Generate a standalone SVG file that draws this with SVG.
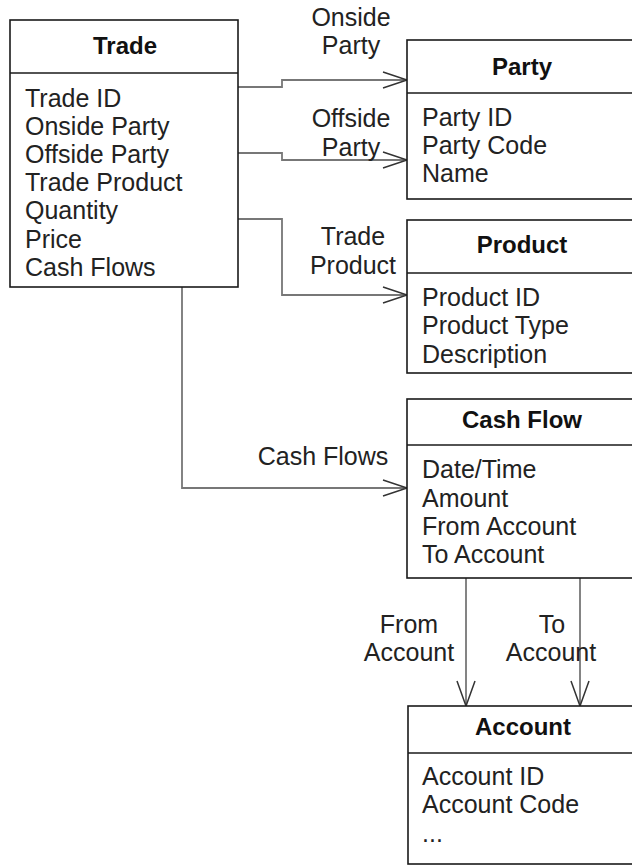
<svg xmlns="http://www.w3.org/2000/svg" width="632" height="866" viewBox="0 0 632 866">
  <style>
    .box { fill: #ffffff; stroke: #1a1a1a; stroke-width: 1.6; }
    .div { stroke: #1a1a1a; stroke-width: 1.6; }
    .title { font-family: "Liberation Sans", Arial, sans-serif; font-size: 24px; font-weight: bold; fill: #111; text-anchor: middle; }
    .attr { font-family: "Liberation Sans", Arial, sans-serif; font-size: 25px; fill: #222; }
    .lbl { font-family: "Liberation Sans", Arial, sans-serif; font-size: 25px; fill: #222; text-anchor: middle; }
    .conn { fill: none; stroke: #777; stroke-width: 1.8; }
    .head { fill: none; stroke: #333; stroke-width: 1.5; }
  </style>
  <rect width="632" height="866" fill="#ffffff"/>

  <!-- relationships -->
  <g id="connectors">
    <!-- Trade -> Party (onside) -->
    <path class="conn" d="M238 87 H282 V80 H407"/>
    <path class="head" d="M383 72 L407 80 L383 88"/>
    <text class="lbl" x="351" y="26">Onside</text>
    <text class="lbl" x="351" y="54">Party</text>

    <!-- Trade -> Party (offside) -->
    <path class="conn" d="M238 153 H282 V160 H407"/>
    <path class="head" d="M383 152 L407 160 L383 168"/>
    <text class="lbl" x="351" y="127">Offside</text>
    <text class="lbl" x="351" y="156">Party</text>

    <!-- Trade -> Product -->
    <path class="conn" d="M238 219 H282 V295 H407"/>
    <path class="head" d="M383 287 L407 295 L383 303"/>
    <text class="lbl" x="353" y="245">Trade</text>
    <text class="lbl" x="353" y="274">Product</text>

    <!-- Trade -> Cash Flow -->
    <path class="conn" d="M182 287 V488 H407"/>
    <path class="head" d="M383 480 L407 488 L383 496"/>
    <text class="lbl" x="323" y="465">Cash Flows</text>

    <!-- Cash Flow -> Account (from) -->
    <path class="conn" d="M466 578 V706"/>
    <path class="head" d="M457 681 L466 706 L475 681"/>
    <text class="lbl" x="409" y="633">From</text>
    <text class="lbl" x="409" y="661">Account</text>

    <!-- Cash Flow -> Account (to) -->
    <path class="conn" d="M580 578 V706"/>
    <path class="head" d="M571 681 L580 706 L589 681"/>
    <text class="lbl" x="552" y="633">To</text>
    <text class="lbl" x="551" y="661">Account</text>
  </g>

  <g id="trade">
    <rect class="box" x="10" y="20" width="228" height="267"/>
    <line class="div" x1="10" y1="73" x2="238" y2="73"/>
    <text class="title" x="125" y="54">Trade</text>
    <text class="attr" x="25" y="107">Trade ID</text>
    <text class="attr" x="25" y="135">Onside Party</text>
    <text class="attr" x="25" y="163">Offside Party</text>
    <text class="attr" x="25" y="191">Trade Product</text>
    <text class="attr" x="25" y="219">Quantity</text>
    <text class="attr" x="25" y="248">Price</text>
    <text class="attr" x="25" y="276">Cash Flows</text>
  </g>

  <g id="party">
    <rect class="box" x="407" y="40" width="230" height="159"/>
    <line class="div" x1="407" y1="93" x2="640" y2="93"/>
    <text class="title" x="522" y="75">Party</text>
    <text class="attr" x="422" y="126">Party ID</text>
    <text class="attr" x="422" y="154">Party Code</text>
    <text class="attr" x="422" y="182">Name</text>
  </g>

  <g id="product">
    <rect class="box" x="407" y="220" width="230" height="153"/>
    <line class="div" x1="407" y1="273" x2="640" y2="273"/>
    <text class="title" x="522" y="253">Product</text>
    <text class="attr" x="422" y="306">Product ID</text>
    <text class="attr" x="422" y="334">Product Type</text>
    <text class="attr" x="422" y="363">Description</text>
  </g>

  <g id="cash-flow">
    <rect class="box" x="407" y="399" width="230" height="179"/>
    <line class="div" x1="407" y1="445" x2="640" y2="445"/>
    <text class="title" x="522" y="428">Cash Flow</text>
    <text class="attr" x="422" y="478">Date/Time</text>
    <text class="attr" x="422" y="507">Amount</text>
    <text class="attr" x="422" y="535">From Account</text>
    <text class="attr" x="422" y="563">To Account</text>
  </g>

  <g id="account">
    <rect class="box" x="408" y="706" width="230" height="158"/>
    <line class="div" x1="408" y1="753" x2="640" y2="753"/>
    <text class="title" x="523" y="735">Account</text>
    <text class="attr" x="422" y="785">Account ID</text>
    <text class="attr" x="422" y="813">Account Code</text>
    <text class="attr" x="422" y="842">...</text>
  </g>
</svg>
